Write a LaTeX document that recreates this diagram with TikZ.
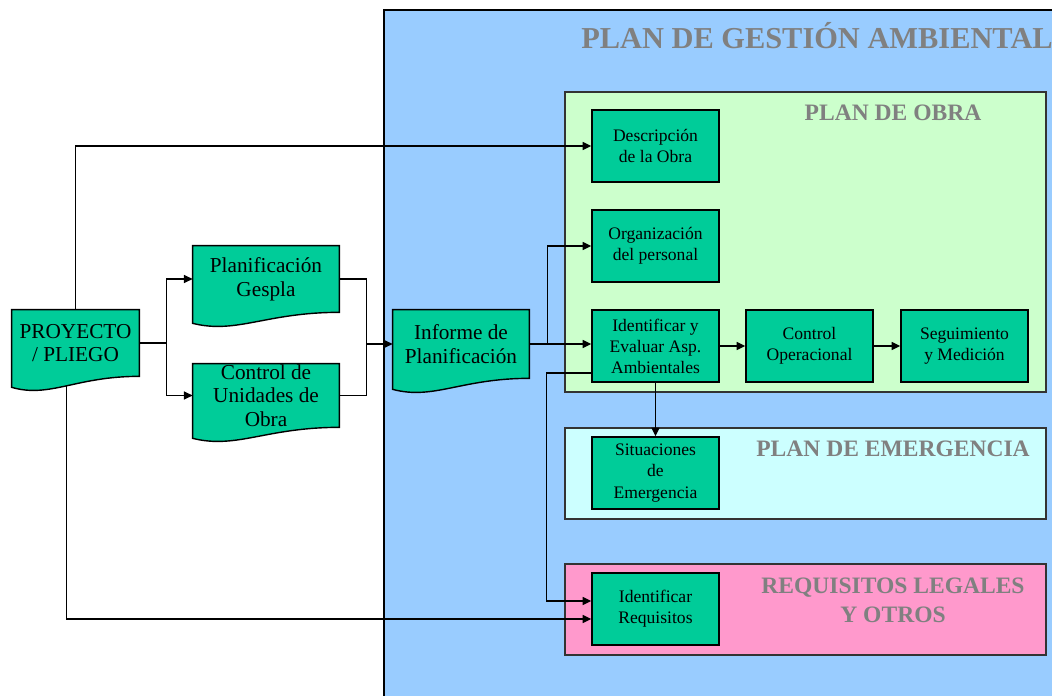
\documentclass[tikz,border=0pt]{standalone}
\usepackage{fontspec}
\setmainfont{Liberation Serif}
\usetikzlibrary{arrows.meta,calc}

\definecolor{fondo}{HTML}{99CCFF}
\definecolor{obra}{HTML}{CCFFCC}
\definecolor{emerg}{HTML}{CCFFFF}
\definecolor{legal}{HTML}{FF99CC}
\definecolor{caja}{HTML}{00CC99}
\definecolor{gris}{HTML}{808080}

\pgfdeclarelayer{fondos}
\pgfdeclarelayer{lineas}
\pgfdeclarelayer{docs}
\pgfsetlayers{fondos,lineas,docs,main}

% hoja con borde inferior ondulado
\newcommand{\documento}[1]{%
\begin{pgfonlayer}{docs}
\draw[line width=0.8pt, fill=caja] (#1.south east) -- (#1.north east) -- (#1.north west) -- ($(#1.south west)+(0,11)$)
  .. controls ($(#1.south west)!0.3!(#1.south east)+(0,22)$) and ($(#1.south west)!0.5!(#1.south east)$) .. (#1.south east) -- cycle;
\end{pgfonlayer}}

\begin{document}
\begin{tikzpicture}[x=0.02cm, y=-0.02cm,
  doc/.style={rectangle, inner sep=0pt, align=center, minimum height=1.32cm, font=\fontsize{12.1}{13.5}\selectfont},
  cajabox/.style={draw, line width=0.8pt, fill=caja, rectangle, inner sep=0pt, align=center,
    minimum width=2.54cm, minimum height=1.44cm, font=\fontsize{10}{12}\selectfont},
  panel/.style={draw=black!80, line width=0.8pt},
  titulo/.style={text=gris, align=center, font=\bfseries\fontsize{13.4}{16.4}\selectfont},
  flecha/.style={line width=0.8pt, -{Triangle[length=5pt,width=4.6pt]}},
  linea/.style={line width=0.8pt}]
\useasboundingbox (0,0) rectangle (1052,696);

% fondos
\begin{pgfonlayer}{fondos}
\fill[fondo] (384,10) rectangle (1052,696);
\draw[line width=0.8pt] (384,696) |- (1052,10);
\draw[panel, fill=obra] (565,92) rectangle (1046,392);
\draw[panel, fill=emerg] (565,428) rectangle (1046,519);
\draw[panel, fill=legal] (565,564) rectangle (1046,655);
\end{pgfonlayer}

\node[titulo, font=\bfseries\fontsize{17.3}{20}\selectfont] (tpga) at (817,36) {PLAN DE GESTIÓN AMBIENTAL};
\node[titulo] (tobra) at (893,113) {PLAN DE OBRA};
\node[titulo] (temerg) at (893,449) {PLAN DE EMERGENCIA};
\node[titulo] (tlegal) at (893,600) {REQUISITOS LEGALES\\Y OTROS};

% documentos
\node[doc, minimum width=2.54cm] (proy) at (75.5,343) {PROYECTO\\/ PLIEGO};
\node[doc, minimum width=2.92cm] (gespla) at (266,279) {Planificación\\Gespla};
\node[doc, minimum width=2.92cm, minimum height=1.26cm] (unid) at (266,395.5) {Control de\\Unidades de\\Obra};
\node[doc, minimum width=2.72cm, minimum height=1.36cm] (inf) at (461,344) {Informe de\\Planificación};
\documento{proy}
\documento{gespla}
\documento{unid}
\documento{inf}

% cajas
\node[cajabox] (desc) at (655.5,146) {Descripción\\de la Obra};
\node[cajabox] (org) at (655.5,246) {Organización\\del personal};
\node[cajabox] (ident) at (655.5,346) {Identificar y\\Evaluar Asp.\\Ambientales};
\node[cajabox] (ctrl) at (809.5,346) {Control\\Operacional};
\node[cajabox] (seg) at (964.5,346) {Seguimiento\\y Medición};
\node[cajabox] (sit) at (655.5,473) {Situaciones\\de\\Emergencia};
\node[cajabox] (req) at (655.5,609) {Identificar\\Requisitos};

% conexiones
\begin{pgfonlayer}{lineas}
\coordinate (f1) at ($(proy.east)+(27,0)$);
\coordinate (f2) at ($(inf.west)+(-26,0)$);
\coordinate (f3) at ($(inf.east)+(18,0)$);
\draw[flecha] (proy.north) |- (desc.west);
\draw[flecha] ([xshift=-0.18cm]proy.south) |- ([yshift=-0.2cm]req.west);
\draw[linea] (proy.east) -- (f1);
\draw[flecha] (f1) |- (gespla.west);
\draw[flecha] (f1) |- (unid.west);
\draw[linea] (gespla.east) -| (f2) |- (unid.east);
\draw[flecha] (f2) -- (inf.west);
\draw[flecha] (inf.east) -- (inf.east -| ident.west);
\draw[flecha] (f3) |- (org.west);
\draw[flecha] ([yshift=-0.54cm]ident.west) -- ++(-45,0) |- ([yshift=0.16cm]req.west);
\draw[flecha] (ident.south) -- (sit.north);
\draw[flecha] (ident.east) -- (ctrl.west);
\draw[flecha] (ctrl.east) -- (seg.west);
\end{pgfonlayer}
\end{tikzpicture}
\end{document}
